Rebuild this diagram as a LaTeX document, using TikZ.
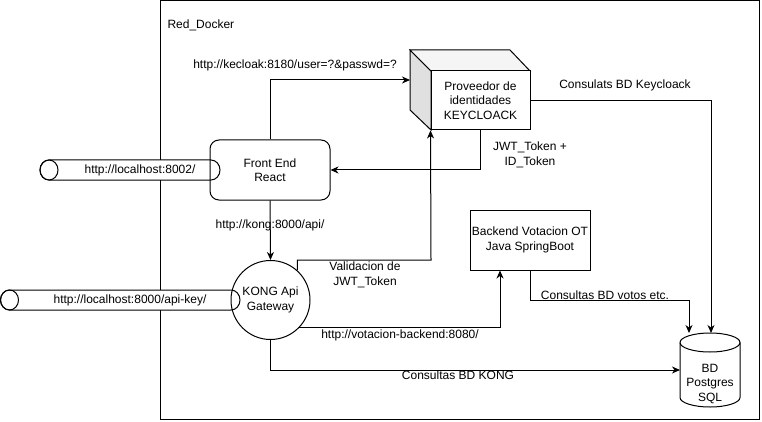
\documentclass[tikz,border=0pt]{standalone}
\usepackage{fontspec}
\setmainfont{Liberation Sans}
\usetikzlibrary{arrows.meta,calc}
\begin{document}
\begin{tikzpicture}[x=1pt,y=-1pt,line width=1pt,
  every node/.style={font=\fontsize{12}{14.4}\selectfont},
  box/.style={draw,line width=1pt,minimum width=120pt,minimum height=60pt,align=center,inner sep=0pt},
  lbl/.style={align=center,inner sep=1pt},
  arr/.style={draw,-{Stealth[length=8pt,width=7pt,inset=2.5pt]}},
  pipe/.style={draw,fill=white,line width=1pt},
  ghost/.style={inner sep=0pt,outer sep=0pt}]
\useasboundingbox (0,0) rectangle (762,422);
\fill[white] (0,0) rectangle (762,422);
% container
\draw (160,0.5) rectangle (759.5,419.5);
\node[anchor=west,inner sep=0pt] (red) at (167,25) {Red\_Docker};
% pipe 1
\path[pipe] (49,160) -- (211,160) arc[start angle=-90,end angle=90,x radius=9,y radius=10]
  -- (49,180) arc[start angle=90,end angle=270,x radius=9,y radius=10] -- cycle;
\draw (49,170) ellipse[x radius=9,y radius=10];
\node (p1) at (140,170) {http://localhost:8002/};
% pipe 2
\path[pipe] (9.5,290) -- (231,290) arc[start angle=-90,end angle=90,x radius=9,y radius=10]
  -- (9.5,310) arc[start angle=90,end angle=270,x radius=9,y radius=10] -- cycle;
\draw (9.5,300) ellipse[x radius=9,y radius=10];
\node (p2) at (130,300) {http://localhost:8000/api-key/};
% front end
\node[box,rounded corners=9pt] (fe) at (270,170) {Front End\\React};
% kong
\node[draw,circle,minimum size=79pt,align=center,inner sep=0pt] (kong) at (270.5,300) {KONG Api\\Gateway};
% keycloak cube
\filldraw[fill=black!12] (410,50) -- (431,71) -- (431,130) -- (410,110) -- cycle;
\filldraw[fill=black!4] (410,50) -- (510,50) -- (530,71) -- (431,71) -- cycle;
\node[draw,fill=white,minimum width=99pt,minimum height=59pt,align=center,inner sep=0pt] (kc) at (480.5,100.5) {Proveedor de\\identidades\\KEYCLOACK};
\node[ghost,minimum width=120pt,minimum height=80pt] (kcall) at (470,90) {};
% backend
\node[box] (be) at (530,240) {Backend Votacion OT\\Java SpringBoot};
% database
\node[ghost,minimum width=60pt,minimum height=74pt] (bd) at (710,370) {};
\filldraw[fill=white] (680,342.5) -- (680,397.5) arc[start angle=180,end angle=0,x radius=30,y radius=9.5]
  -- (740,342.5) arc[start angle=0,end angle=-180,x radius=30,y radius=9.5] -- cycle;
\draw (680,342.5) arc[start angle=180,end angle=0,x radius=30,y radius=9.5];
\node[lbl] (bdt) at (710,384) {BD\\Postgres\\SQL};
% connectors
\draw[arr] (fe.north) |- ([yshift=10pt]kcall.west);
\node[lbl] (l1) at (295,65) {http://kecloak:8180/user=?\&passwd=?};
\draw[arr] ([xshift=-0.5pt]kc.south) |- (fe.east);
\node[lbl] (l2) at (530,155) {JWT\_Token +\\ID\_Token};
\node[lbl] (l3) at (270,225) {http://kong:8000/api/};
\draw[arr] (fe.south) -- (kong.north);
\coordinate (v1) at (431,260);
\draw[arr] (kong.48) |- (v1) -- (kc.south west);
\node[lbl] (l4) at (365,275) {Validacion de\\JWT\_Token};
\draw[arr] (kong.-44) -| ([xshift=-30pt]be.south);
\node[lbl] (l5) at (400,335) {http://votacion-backend:8080/};
\draw[arr] (kong.south) |- (bd.west);
\node[lbl] (l6) at (458,375) {Consultas BD KONG};
\draw[arr] (be.south) -- ++(0,30) -| ([xshift=-21pt]bd.north);
\node[lbl] (l7) at (605,295) {Consultas BD votos etc.};
\draw[arr] (kc.east) -| ([xshift=1pt]bd.north);
\node[lbl] (l8) at (625,85) {Consulats BD Keycloack};
\end{tikzpicture}
\end{document}
